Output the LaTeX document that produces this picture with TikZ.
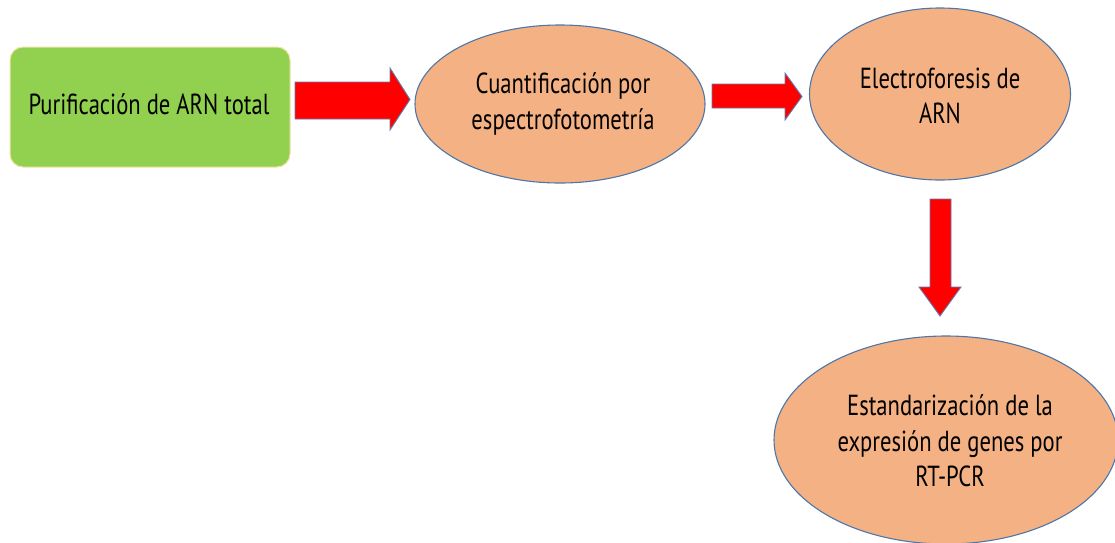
\documentclass[tikz,border=0pt]{standalone}
\usepackage{fontspec}
\setmainfont{PT Sans}[FakeStretch=0.78]
\usetikzlibrary{shapes.geometric}
\definecolor{boxgreen}{HTML}{92D050}
\definecolor{boxedge}{HTML}{F2E2A6}
\definecolor{ovalfill}{HTML}{F4B183}
\definecolor{ovaledge}{HTML}{4F76A6}
\definecolor{arrowedge}{HTML}{5E7FAE}
\tikzset{
  greenbox/.style={draw=boxedge, line width=1pt, fill=boxgreen, rounded corners=13pt,
    minimum width=280pt, minimum height=120pt, inner sep=0pt},
  oval/.style={ellipse, draw=ovaledge, line width=1.1pt, fill=ovalfill, inner sep=0pt},
  label/.style={align=center, font=\fontsize{29}{35.5}\selectfont, text=black, inner sep=0pt},
  blockarrow/.style={fill=red, draw=arrowedge, line width=0.9pt, line join=miter}
}
\begin{document}
\begin{tikzpicture}[x=1pt, y=-1pt]
\useasboundingbox (0,0) rectangle (1115,542);
% boxes and ovals
\node[greenbox] (purif) at (150,107) {};
\node[label] (tpurif) at (149,104) {Purificación de ARN total};
\node[oval, minimum width=290pt, minimum height=158pt] (cuant) at (560,104) {};
\node[label] (tcuant) at (563,104) {Cuantificación por\\espectrofotometría};
\node[oval, minimum width=261pt, minimum height=172pt] (electro) at (940,94) {};
\node[label] (telectro) at (940,96) {Electroforesis de\\ARN};
\node[oval, minimum width=344pt, minimum height=208pt] (estand) at (946,440) {};
\node[label] (testand) at (950,441) {Estandarización de la\\expresión de genes por\\RT-PCR};
% block arrows
\draw[blockarrow] (295,82) -- (390,82) -- (390,68) -- (410,99.5) -- (390,130) -- (390,119) -- (295,119) -- cycle;
\draw[blockarrow] (712,84) -- (785,84) -- (785,73) -- (802,96.5) -- (785,120) -- (785,108) -- (712,108) -- cycle;
\draw[blockarrow] (930,199) -- (951,199) -- (951,287) -- (961,287) -- (940,316) -- (919,287) -- (930,287) -- cycle;
\end{tikzpicture}
\end{document}
